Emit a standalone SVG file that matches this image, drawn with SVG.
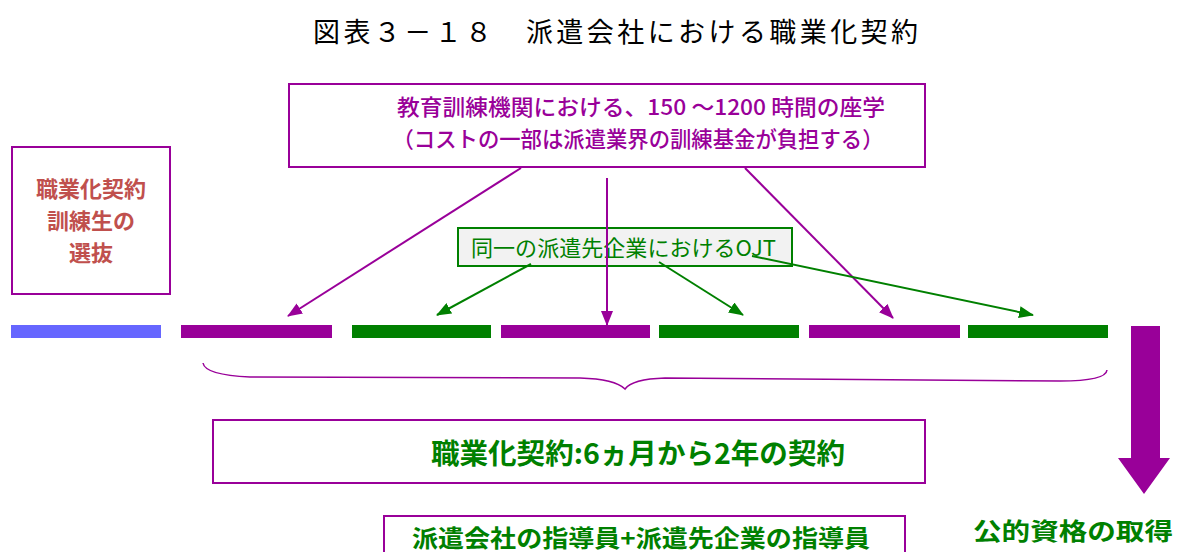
<svg xmlns="http://www.w3.org/2000/svg" width="1177" height="552" viewBox="0 0 1177 552">
<style>
.jp{font-family:"Noto Sans CJK JP","Liberation Sans",sans-serif}
.box{fill:#fff;stroke:#990099;stroke-width:2}
.pl{stroke:#990099;stroke-width:2;fill:none}
.gl{stroke:#008000;stroke-width:2;fill:none}
.pt{fill:#990099}
.gt{fill:#008000}
</style>
<defs>
<marker id="ap" viewBox="0 0 15 12" refX="14" refY="6" markerWidth="15" markerHeight="12" orient="auto" markerUnits="userSpaceOnUse">
<path d="M0,0 L15,6 L0,12 z" fill="#990099"/>
</marker>
<marker id="ag" viewBox="0 0 15 12" refX="14" refY="6" markerWidth="15" markerHeight="12" orient="auto" markerUnits="userSpaceOnUse">
<path d="M0,0 L15,6 L0,12 z" fill="#008000"/>
</marker>
</defs>
<rect width="1177" height="552" fill="#fff"/>
<text class="jp" x="313" y="42" font-size="27" fill="#000" textLength="605" lengthAdjust="spacing">図表３－１８　派遣会社における職業化契約</text>

<g id="top-box">
<rect class="box" x="289" y="84" width="636" height="83"/>
<text class="jp pt" x="641" y="115" font-size="22" font-weight="500" text-anchor="middle" textLength="488" lengthAdjust="spacingAndGlyphs">教育訓練機関における、150 ～1200 時間の座学</text>
<text class="jp pt" x="638" y="147" font-size="22" font-weight="500" text-anchor="middle" textLength="491" lengthAdjust="spacingAndGlyphs">（コストの一部は派遣業界の訓練基金が負担する）</text>
</g>

<g id="left-box">
<rect class="box" x="12" y="147" width="158" height="147"/>
<g class="jp" font-size="22" font-weight="bold" fill="#c0504d" text-anchor="middle">
<text x="91" y="197">職業化契約</text>
<text x="91" y="229">訓練生の</text>
<text x="91" y="261">選抜</text>
</g>
</g>

<g id="ojt-box">
<rect x="458" y="228" width="334" height="38" fill="#f2f2f2" stroke="#008000" stroke-width="2"/>
<text class="jp gt" x="471" y="256" font-size="22" textLength="305" lengthAdjust="spacingAndGlyphs">同一の派遣先企業におけるOJT</text>
</g>

<g id="bars">
<rect x="11" y="325" width="150" height="13" fill="#6666ff"/>
<rect x="181" y="325" width="151" height="13" fill="#990099"/>
<rect x="352" y="325" width="139" height="13" fill="#008000"/>
<rect x="501" y="325" width="149" height="13" fill="#990099"/>
<rect x="659" y="325" width="140" height="13" fill="#008000"/>
<rect x="809" y="325" width="151" height="13" fill="#990099"/>
<rect x="968" y="325" width="140" height="13" fill="#008000"/>
</g>

<g id="connectors">
<line class="pl" x1="521" y1="168" x2="288" y2="316" marker-end="url(#ap)"/>
<line class="pl" x1="607" y1="178" x2="607" y2="325" marker-end="url(#ap)"/>
<line class="pl" x1="745" y1="168" x2="893" y2="318" marker-end="url(#ap)"/>
<line class="gl" x1="531" y1="264" x2="437" y2="315" marker-end="url(#ag)"/>
<line class="gl" x1="659" y1="262" x2="743" y2="315" marker-end="url(#ag)"/>
<line class="gl" x1="752" y1="256" x2="1033" y2="315" marker-end="url(#ag)"/>
<path d="M203,363 Q205,375 250,377 L580,378 Q615,379 625,389 Q632,379 665,378 L1060,381 Q1106,381 1107,370" stroke="#990099" stroke-width="1.5" fill="none"/>
</g>

<g id="big-arrow">
<path d="M1131,326 H1160 V458 H1170 L1144,494 L1118,458 H1131 Z" fill="#990099"/>
</g>

<g id="contract-box">
<rect class="box" x="213" y="420" width="712" height="63"/>
<text class="jp gt" x="431" y="464" font-size="28" font-weight="bold" textLength="414" lengthAdjust="spacingAndGlyphs">職業化契約:6ヵ月から2年の契約</text>
</g>

<g id="mentor-box">
<rect class="box" x="384" y="516" width="521" height="50"/>
<text class="jp gt" x="412" y="547" font-size="24" font-weight="bold" textLength="458" lengthAdjust="spacingAndGlyphs">派遣会社の指導員+派遣先企業の指導員</text>
</g>

<g id="qualification">
<text class="jp gt" x="973" y="540" font-size="24" font-weight="bold" textLength="200" lengthAdjust="spacingAndGlyphs">公的資格の取得</text>
</g>
</svg>
